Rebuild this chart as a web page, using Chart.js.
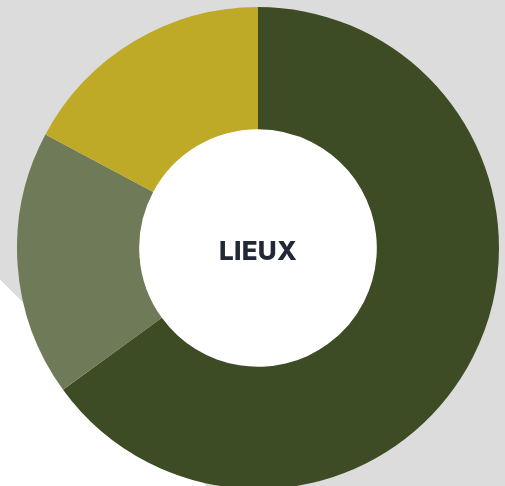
<!DOCTYPE html>
<html>
<head>
<meta charset="utf-8">
<script src="https://cdn.jsdelivr.net/npm/chart.js@4"></script>
<style>
    html, body {
        margin: 0;
        padding: 0;
        width: 505px;
        height: 486px;
        overflow: hidden;
    }
    body {
        position: relative;
        /* fond gris avec une bande blanche en bas à gauche */
        background: linear-gradient(45deg, #ffffff 146px, #dcdcdc 146px);
    }
    #lieux-chart {
        position: absolute;
        left: 17px;
        top: 7px;
        width: 482px;
        height: 482px;
    }
    #center-label {
        position: absolute;
        left: 158px;
        top: 235px;
        width: 200px;
        text-align: center;
        font-family: Inter, "Open Sans", sans-serif;
        font-weight: 800;
        font-size: 26px;
        line-height: 32px;
        color: #232836;
        letter-spacing: 0.3px;
    }
</style>
</head>
<body>
<div id="lieux-chart"><canvas></canvas></div>
<div id="center-label">LIEUX</div>

<script>
// données du graphique
const labels = ['Lieu A', 'Lieu B', 'Lieu C'];
const values = [65, 17.8, 17.2];
const colors = ['#3d4c24', '#6f7a58', '#bfaa28'];

// remplit le trou central en blanc
const holePlugin = {
    id: 'hole',
    beforeDatasetsDraw(chart) {
        const arc = chart.getDatasetMeta(0).data[0];
        if (!arc) return;
        const ctx = chart.ctx;
        ctx.save();
        ctx.fillStyle = '#ffffff';
        ctx.beginPath();
        ctx.arc(arc.x, arc.y, arc.innerRadius + 1, 0, Math.PI * 2);
        ctx.fill();
        ctx.restore();
    }
};

document.addEventListener('DOMContentLoaded', function() {
    createLieuxChart();
});

/**
 * Crée le graphique en anneau des lieux
 */
function createLieuxChart() {
    const container = document.getElementById('lieux-chart');
    if (!container) return;
    const canvas = container.querySelector('canvas');

    new Chart(canvas, {
        type: 'doughnut',
        data: {
            labels: labels,
            datasets: [{
                data: values,
                backgroundColor: colors,
                borderWidth: 0,
                hoverOffset: 0
            }]
        },
        options: {
            responsive: true,
            maintainAspectRatio: false,
            animation: false,
            cutout: '49.3%',
            layout: { padding: 0 },
            plugins: {
                legend: { display: false },
                tooltip: { enabled: false }
            }
        },
        plugins: [holePlugin]
    });
}
</script>
</body>
</html>
